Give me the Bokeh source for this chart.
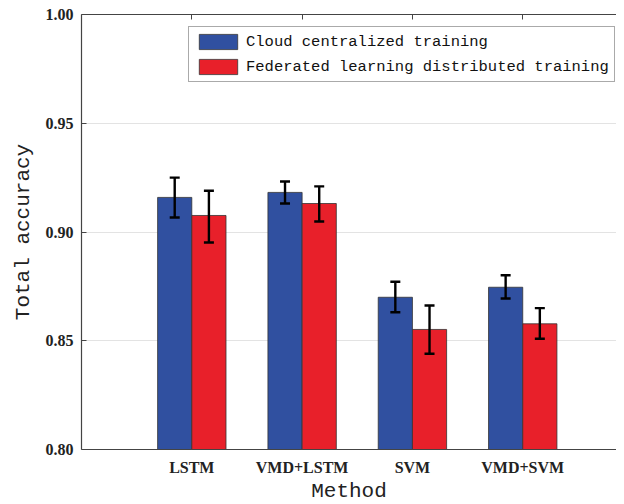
from bokeh.plotting import figure
from bokeh.models import (ColumnDataSource, Range1d, FixedTicker, LinearAxis, Whisker,
                          TeeHead, Legend, LegendItem, NumeralTickFormatter)
from bokeh.transform import dodge
from bokeh.embed import file_html
from bokeh.resources import INLINE

methods = ["LSTM", "VMD+LSTM", "SVM", "VMD+SVM"]
series = ["Cloud centralized training", "Federated learning distributed training"]
cloud = [0.9159, 0.9182, 0.8700, 0.8746]
cloud_lo = [0.9067, 0.9131, 0.8631, 0.8694]
cloud_hi = [0.9250, 0.9232, 0.8771, 0.8801]
fed = [0.9076, 0.9131, 0.8552, 0.8578]
fed_lo = [0.8952, 0.9048, 0.8440, 0.8509]
fed_hi = [0.9190, 0.9210, 0.8662, 0.8650]
y_ticks = [0.80, 0.85, 0.90, 0.95, 1.00]

x = [i + 1 for i in range(len(methods))]
src = ColumnDataSource(dict(x=x, cloud=cloud, cloud_lo=cloud_lo, cloud_hi=cloud_hi,
                            fed=fed, fed_lo=fed_lo, fed_hi=fed_hi))

p = figure(frame_width=535, frame_height=435, output_backend="svg", toolbar_location=None,
           x_range=Range1d(0, 4.85), y_range=Range1d(0.80, 1.00),
           min_border_left=81, min_border_top=14, min_border_right=0, min_border_bottom=47)
p.outline_line_color = None
p.background_fill_color = "white"
p.border_fill_color = "white"

off = 0.155
w = 0.31
blue = "#3050A0"
red = "#E8202A"
r1 = p.vbar(x=dodge("x", -off, range=p.x_range), top="cloud", bottom=0.80, width=w, source=src,
            fill_color=blue, line_color="#333333", line_width=0.8)
r2 = p.vbar(x=dodge("x", off, range=p.x_range), top="fed", bottom=0.80, width=w, source=src,
            fill_color=red, line_color="#333333", line_width=0.8)

for col, o in (("cloud", -off), ("fed", off)):
    wk = Whisker(base=dodge("x", o, range=p.x_range), lower=col + "_lo", upper=col + "_hi", source=src,
                 line_color="black", line_width=2.4, level="overlay",
                 upper_head=TeeHead(size=10, line_color="black", line_width=2.4),
                 lower_head=TeeHead(size=10, line_color="black", line_width=2.4))
    p.add_layout(wk)

# axes
p.yaxis.ticker = FixedTicker(ticks=y_ticks)
p.yaxis.formatter = NumeralTickFormatter(format="0.00")
p.xaxis.ticker = FixedTicker(ticks=x)
p.xaxis.major_label_overrides = {xi: m for xi, m in zip(x, methods)}
for ax in (p.xaxis[0], p.yaxis[0]):
    ax.major_label_text_font = "Liberation Serif"
    ax.major_label_text_font_style = "bold"
    ax.major_label_text_font_size = "16px"
    ax.major_label_text_color = "#222222"
    ax.axis_label_text_font = "Liberation Mono"
    ax.axis_label_text_font_style = "normal"
    ax.axis_label_text_font_size = "21px"
    ax.axis_label_text_color = "#222222"
    ax.axis_line_color = "#444444"
    ax.axis_line_width = 1.2
    ax.minor_tick_line_color = None
    ax.major_tick_out = 0
p.yaxis.major_tick_in = 5
p.yaxis.major_tick_line_color = "#444444"
p.xaxis.major_tick_in = 0
p.xaxis.major_label_standoff = 9
p.yaxis.major_label_standoff = 8
p.xaxis.axis_label = "Method"
p.yaxis.axis_label = "Total accuracy"
p.xaxis.axis_label_standoff = 1
p.yaxis.axis_label_standoff = 8

top = LinearAxis(ticker=FixedTicker(ticks=x), major_label_overrides={xi: "" for xi in x},
                 major_label_standoff=0, major_tick_in=5, major_tick_out=0,
                 minor_tick_line_color=None, axis_line_color="#444444", axis_line_width=1.2,
                 major_tick_line_color="#444444")
p.add_layout(top, "above")

p.xgrid.grid_line_color = None
p.ygrid.ticker = FixedTicker(ticks=y_ticks)
p.ygrid.grid_line_color = "#e3e3e3"
p.ygrid.grid_line_width = 1

legend = Legend(items=[LegendItem(label=series[0], renderers=[r1]),
                       LegendItem(label=series[1], renderers=[r2])],
                location=(107, 367))
legend.label_text_font = "Liberation Mono"
legend.label_text_font_size = "15.5px"
legend.label_text_color = "#111111"
legend.glyph_width = 48
legend.glyph_height = 19
legend.label_height = 19
legend.label_standoff = 4
legend.spacing = 6
legend.padding = 5
legend.margin = 0
legend.border_line_color = "#555555"
legend.border_line_width = 1.2
legend.background_fill_alpha = 1
p.add_layout(legend, "center")

open("out.html", "w").write(file_html(p, INLINE))
